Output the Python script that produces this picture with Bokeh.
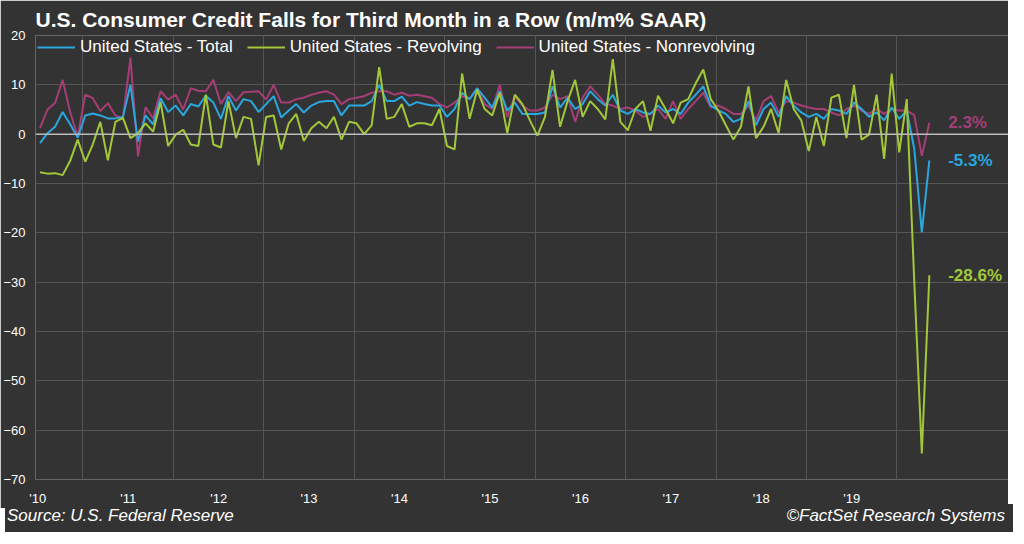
from bokeh.plotting import figure
from bokeh.layouts import column
from bokeh.models import Label, FixedTicker, Span, Legend, LegendItem, Div
from bokeh.embed import file_html
from bokeh.resources import INLINE

# monthly, Jul 2010 .. May 2020 (m/m % SAAR)
total = [-1.8, 0.2, 1.5, 4.5, 2, -0.7, 3.8, 4.2, 3.8, 3.2, 3.2, 3.5, 10, -1.5, 3.8, 2, 7.3,
         4.5, 5.8, 3.8, 6.1, 5.6, 7.8, 6.4, 3.1, 7.7, 4.8, 7.1, 6.7, 4.5, 6.1, 7.7, 3.4, 4.8, 6.1,
         4.4, 5.8, 6.5, 6.7, 6.7, 3.8, 5.8, 5.8, 5.8, 6.7, 10, 6.7, 6.7, 7.6, 5.8, 6.5,
         6.1, 5.8, 5.8, 3.5, 5.1, 8.4, 7.1, 9.3, 7.4, 5.4, 8.7, 4.8, 6.4, 4.1, 4.1,
         4.1, 4.4, 9.7, 5.4, 7.4, 5.1, 6.1, 8.7, 7.1, 5.8, 8, 4.8, 4.1, 5.1, 4.4, 4.1, 5.8, 4.4,
         5.1, 4.1, 6.4, 8, 9.7, 5.8, 4.8, 4.1, 2.5, 3.1, 6.7, 1.8, 5.1, 6.4, 3.5,
         7.7, 5.8, 4.4, 3.5, 4.1, 3.1, 5.1, 4.8, 4.1, 6.4, 5.1, 3.5, 4.4, 2.8, 5.4, 3.1, 4.8,
         -3, -19.9, -5.3]
nonrevolving = [1.2, 5, 6.3, 11, 4.5, -0.5, 8, 7.3, 4.7, 6.3, 3.8, 3.2, 15.5, -4.5, 5.5, 3.2, 8.7,
                7, 8, 5, 9.3, 8.8, 8.7, 11, 6.1, 8.5, 6.7, 8.5, 8.6, 8.7, 7, 10, 6.4, 6.4, 7.1,
                7.4, 8, 8.4, 8.7, 8, 6.1, 7.1, 7.4, 7.7, 8.4, 8.7, 8.7, 8, 8.4, 7.8, 8,
                7.7, 7.4, 6.1, 5.4, 6.4, 7.7, 7.1, 9.3, 6.1, 5.1, 10, 3.5, 7.7, 5.8, 4.8,
                4.8, 5.4, 8, 7.1, 7.7, 2.5, 7.4, 9.7, 8, 6.1, 5.8, 5.1, 5.4, 4.8, 3.5, 4.1, 5.1, 3.1,
                6.7, 3.1, 5.1, 6.7, 8.4, 5.4, 5.8, 5.1, 4.1, 4.1, 5.8, 2.8, 6.7, 7.7, 4.4,
                6.7, 6.4, 5.8, 5.4, 5.1, 5.1, 4.4, 3.8, 5.1, 5.8, 4.8, 4.1, 5.1, 4.1, 5.1, 4.8, 4.8,
                3.8, -4.4, 2.3]
revolving = [-7.7, -8, -7.9, -8.3, -5.4, -1.1, -5.6, -2.1, 2.5, -5.3, 2.5, 3.3, -0.8, 0.2, 2.2, 0.5, 6.5,
             -2.4, -0.1, 0.9, -2.1, -2.4, 8, -2.1, -2.7, 6.7, -0.8, 3.5, 3.1, -6.3, 3.5, 3.8, -3.1, 2.2, 4.1,
             -1.4, 1.2, 2.5, 1.2, 3.5, -1.1, 2.5, 2.2, 0, 1.8, 13.6, 3.1, 3.5, 6.1, 1.5, 2.2,
             2.2, 1.8, 5.1, -2.4, -3.1, 12.3, 3.1, 9, 5.1, 3.8, 8.4, 0.2, 8, 6.1, 2.8,
             -0.3, 3.5, 13, 1.5, 6.7, 11, 3.5, 6.7, 5.1, 3, 15.2, 2.5, 0.8, 5.1, 6.7, 0.7, 7.8, 5.1,
             2.2, 6.4, 7.1, 10.3, 13.1, 7.1, 4.8, 1.8, -1.1, 1.5, 9.7, -0.8, 1.5, 5.1, 0.2,
             11, 5.1, 2.8, -3.4, 3.5, -2.4, 7.4, 8, -0.8, 10, -1.1, -0.1, 8, -5, 12.3, -3.7, 7.1,
             -30, -64.7, -28.6]
year_labels = ["'10", "'11", "'12", "'13", "'14", "'15", "'16", "'17", "'18", "'19"]

months = list(range(len(total)))
BG = "#333333"
BLUE, GREEN, PINK = "#2aa7de", "#a2c83a", "#a53e75"
FONT = "Liberation Sans"

p = figure(width=1008, height=508, output_backend="svg", toolbar_location=None,
           x_range=(-0.6, 128.5), y_range=(-70, 20),
           background_fill_color=BG, border_fill_color=BG, outline_line_color=None,
           min_border_left=6, min_border_right=0, min_border_bottom=0, min_border_top=8)

p.title.text = "U.S. Consumer Credit Falls for Third Month in a Row (m/m% SAAR)"
p.title.text_color = "white"
p.title.text_font = FONT
p.title.text_font_size = "21px"
p.title.text_font_style = "bold"

r_tot = p.line(months, total, line_color=BLUE, line_width=2)
r_rev = p.line(months, revolving, line_color=GREEN, line_width=2)
r_non = p.line(months, nonrevolving, line_color=PINK, line_width=2)
p.renderers.insert(0, p.renderers.pop())  # nonrevolving behind

p.add_layout(Span(location=0, dimension="width", line_color="#bbbbbb", line_width=1.5))

tick_pos = [12 * k - 0.3 for k in range(len(year_labels))]
p.xaxis.ticker = FixedTicker(ticks=tick_pos)
p.xaxis.major_label_overrides = {t: s for t, s in zip(tick_pos, year_labels)}
p.xgrid.ticker = FixedTicker(ticks=[12 * k + 5.7 for k in range(10)])
p.yaxis.ticker = FixedTicker(ticks=list(range(-70, 21, 10)))
for ax in (p.xaxis, p.yaxis):
    ax.axis_line_color = None
    ax.major_tick_line_color = None
    ax.minor_tick_line_color = None
    ax.major_label_text_color = "white"
    ax.major_label_text_font = FONT
    ax.major_label_text_font_size = "13px"
p.xaxis.major_label_standoff = 5
p.yaxis.major_label_standoff = 4
p.grid.grid_line_color = "#555555"

legend = Legend(items=[LegendItem(label="United States - Total", renderers=[r_tot]),
                       LegendItem(label="United States - Revolving", renderers=[r_rev]),
                       LegendItem(label="United States - Nonrevolving", renderers=[r_non])],
                orientation="horizontal", location="top_left",
                background_fill_alpha=0, border_line_color=None,
                label_text_color="white", label_text_font=FONT, label_text_font_size="17px",
                glyph_width=38, spacing=14, margin=2, padding=2)
p.add_layout(legend)

for txt, y, c in [("2.3%", nonrevolving[-1], PINK), ("-5.3%", total[-1], BLUE),
                  ("-28.6%", revolving[-1], GREEN)]:
    p.add_layout(Label(x=len(total) + 1.5, y=y, text=txt, text_color=c, text_font=FONT,
                       text_font_size="17px", text_font_style="bold", text_baseline="middle"))

footer = Div(width=1008, height=24,
             styles={"background-color": BG, "width": "1008px", "margin-top": "-4px"},
             text=("<div style='width:1008px;height:28px;box-sizing:border-box;"
                   "background:#333333;display:flex;justify-content:space-between;"
                   "color:white;font:italic 17px Liberation Sans;padding:2px 8px 0 2px'>"
                   "<span>Source: U.S. Federal Reserve</span>"
                   "<span>©FactSet Research Systems</span></div>"))

open("out.html", "w").write(file_html(column(p, footer, spacing=0), INLINE))
